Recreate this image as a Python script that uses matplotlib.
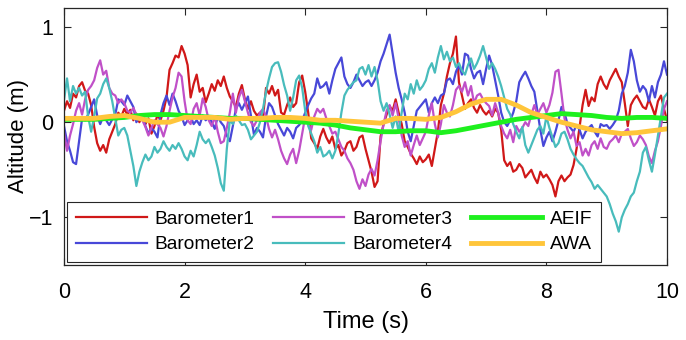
import numpy as np
import matplotlib
matplotlib.use("Agg")
import matplotlib.pyplot as plt

plt.rcParams['font.family'] = ['Liberation Sans', 'DejaVu Sans']

# ---- data ----
baro1 = [0.12, 0.22, 0.15, 0.30, 0.26, 0.38, 0.42, 0.33, 0.30, 0.18,
         -0.05, -0.22, -0.30, -0.24, -0.32, -0.18, -0.10, -0.02, 0.10, 0.06,
         0.14, 0.08, 0.13, 0.02, 0.09, 0.00, 0.08, -0.02, 0.04, -0.12,
         -0.04, 0.08, 0.02, 0.12, 0.26, 0.55, 0.62, 0.70, 0.68, 0.80,
         0.72, 0.60, 0.26, 0.40, 0.50, 0.32, 0.36, 0.21, 0.30, 0.40,
         0.33, 0.44, 0.38, 0.48, 0.36, 0.27, 0.22, 0.16, 0.30, 0.39,
         0.24, 0.14, 0.22, 0.12, 0.07, 0.10, 0.05, 0.36, 0.30, 0.38,
         0.28, 0.34, 0.10, 0.08, 0.18, 0.26, 0.16, 0.20, 0.42, 0.49,
         0.32, 0.10, -0.17, -0.22, -0.28, -0.15, -0.07, -0.16, -0.22, -0.15,
         -0.28, -0.24, -0.35, -0.30, -0.22, -0.20, -0.30, -0.26, -0.16, -0.14,
         -0.28, -0.40, -0.52, -0.68, -0.62, -0.15, -0.02, 0.08, 0.17, 0.12,
         0.24, 0.10, -0.02, -0.20, -0.26, -0.33, -0.38, -0.44, -0.36, -0.42,
         -0.39, -0.34, -0.46, -0.28, -0.10, 0.18, 0.30, 0.48, 0.62, 0.72,
         0.90, 0.42, 0.28, 0.14, 0.20, 0.24, 0.15, 0.10, 0.18, 0.12,
         0.08, 0.12, 0.06, 0.14, 0.10, -0.08, -0.40, -0.46, -0.42, -0.52,
         -0.50, -0.44, -0.48, -0.58, -0.54, -0.50, -0.58, -0.64, -0.52, -0.58,
         -0.55, -0.60, -0.66, -0.78, -0.62, -0.56, -0.62, -0.58, -0.55, -0.45,
         -0.28, -0.05, 0.18, 0.34, 0.17, 0.26, 0.22, 0.40, 0.48, 0.40,
         0.35, 0.44, 0.50, 0.56, 0.48, 0.42, 0.20, -0.04, 0.18, 0.24,
         0.28, 0.22, 0.16, 0.14, 0.24, 0.16, 0.07, 0.22, 0.28, 0.14,
         0.02]

baro2 = [-0.04, -0.20, -0.30, -0.42, -0.44, -0.20, 0.04, 0.02, 0.08, 0.16,
         0.24, 0.07, -0.02, 0.06, 0.02, -0.03, 0.03, 0.08, 0.24, 0.22,
         0.18, 0.28, 0.22, 0.16, 0.00, 0.05, 0.08, -0.04, -0.12, -0.06,
         -0.10, -0.16, 0.08, 0.20, 0.28, 0.18, 0.30, 0.22, 0.12, 0.06,
         -0.03, 0.02, 0.06, -0.02, 0.02, -0.03, 0.07, 0.02, 0.06, 0.00,
         -0.07, 0.06, 0.00, -0.04, -0.14, -0.20, -0.04, 0.14, 0.20, 0.13,
         0.20, 0.27, 0.07, -0.13, -0.06, -0.10, -0.16, 0.06, 0.20, 0.16,
         0.07, -0.02, -0.08, -0.14, -0.06, -0.10, -0.17, -0.06, -0.03, 0.02,
         0.10, 0.18, 0.25, 0.30, 0.46, 0.36, 0.38, 0.42, 0.30, 0.44,
         0.56, 0.62, 0.68, 0.48, 0.40, 0.36, 0.42, 0.50, 0.44, 0.38,
         0.42, 0.44, 0.38, 0.44, 0.52, 0.64, 0.72, 0.82, 0.92, 0.72,
         0.52, 0.36, 0.24, 0.10, -0.10, -0.20, -0.04, 0.12, 0.16, 0.20,
         0.24, 0.10, 0.20, 0.26, 0.20, 0.28, 0.30, 0.44, 0.46, 0.40,
         0.53, 0.60, 0.50, 0.72, 0.70, 0.56, 0.46, 0.52, 0.54, 0.40,
         0.56, 0.70, 0.60, 0.44, 0.28, 0.10, 0.00, -0.04, 0.02, 0.10,
         0.22, 0.42, 0.48, 0.53, 0.46, 0.38, 0.32, 0.12, -0.08, -0.25,
         -0.16, -0.10, -0.20, -0.10, 0.02, 0.16, 0.10, -0.02, -0.06, -0.10,
         -0.03, -0.08, -0.17, -0.10, -0.06, -0.03, -0.10, -0.15, -0.02, -0.04,
         -0.03, -0.07, -0.03, 0.02, 0.12, 0.30, 0.38, 0.52, 0.76, 0.64,
         0.44, 0.32, 0.38, 0.34, 0.22, 0.38, 0.26, 0.42, 0.50, 0.64,
         0.50]

baro3 = [-0.11, -0.30, -0.14, -0.02, 0.12, 0.20, 0.08, 0.24, 0.34, 0.38,
         0.44, 0.57, 0.65, 0.50, 0.54, 0.36, 0.30, 0.28, 0.20, 0.24,
         0.20, 0.12, 0.10, 0.15, 0.08, 0.04, 0.02, -0.05, -0.14, -0.06,
         0.02, -0.02, -0.06, -0.15, -0.04, 0.12, 0.26, 0.36, 0.52, 0.48,
         0.22, 0.02, -0.02, 0.14, 0.20, 0.07, 0.25, 0.16, 0.02, -0.04,
         0.06, -0.10, -0.22, -0.20, -0.06, 0.10, 0.30, 0.10, 0.26, 0.34,
         0.22, 0.10, 0.00, -0.04, 0.02, 0.10, 0.14, 0.06, -0.07, -0.16,
         -0.08, -0.18, -0.30, -0.38, -0.44, -0.34, -0.28, -0.43, -0.30, -0.12,
         0.06, -0.02, -0.08, 0.06, 0.14, 0.10, 0.14, 0.04, -0.04, -0.12,
         -0.10, -0.18, -0.26, -0.30, -0.38, -0.43, -0.50, -0.62, -0.70, -0.60,
         -0.67, -0.55, -0.49, -0.56, -0.40, -0.20, -0.02, 0.12, 0.18, 0.07,
         0.20, 0.04, -0.14, -0.26, -0.20, -0.35, -0.24, -0.14, -0.24, -0.17,
         -0.10, 0.07, 0.20, -0.02, -0.16, -0.02, 0.18, 0.10, 0.06, 0.18,
         0.34, 0.38, 0.32, 0.42, 0.28, 0.38, 0.20, 0.28, 0.30, 0.24,
         0.20, 0.17, 0.07, 0.20, 0.10, -0.04, -0.12, -0.17, -0.08, -0.21,
         -0.04, -0.10, -0.06, 0.00, -0.04, 0.08, 0.18, 0.08, 0.14, 0.20,
         0.10, 0.18, 0.31, 0.53, 0.55, 0.30, 0.04, -0.08, -0.17, -0.10,
         -0.25, -0.21, -0.35, -0.28, -0.35, -0.24, -0.20, -0.28, -0.17, -0.26,
         -0.28, -0.21, -0.18, -0.14, -0.21, -0.12, -0.10, -0.07, -0.17, -0.25,
         -0.21, -0.14, -0.18, -0.24, -0.36, -0.43, -0.30, -0.20, -0.04, 0.14,
         0.22]

baro4 = [0.23, 0.46, 0.22, 0.38, 0.30, 0.36, 0.28, 0.32, 0.06, -0.10,
         0.06, 0.25, 0.30, 0.40, 0.46, 0.36, 0.22, 0.04, -0.14, -0.08,
         -0.06, -0.14, -0.30, -0.46, -0.67, -0.52, -0.42, -0.34, -0.40, -0.36,
         -0.26, -0.32, -0.28, -0.20, -0.26, -0.30, -0.24, -0.28, -0.22, -0.28,
         -0.36, -0.40, -0.30, -0.36, -0.24, -0.10, -0.18, -0.22, -0.18, -0.26,
         -0.35, -0.48, -0.64, -0.72, -0.28, 0.02, -0.02, 0.07, 0.02, -0.03,
         -0.02, -0.08, -0.18, -0.14, -0.10, 0.00, 0.14, 0.32, 0.46, 0.58,
         0.62, 0.63, 0.53, 0.39, 0.28, 0.12, 0.26, 0.44, 0.49, 0.36,
         0.12, -0.04, -0.12, -0.20, -0.32, -0.26, -0.36, -0.34, -0.30, -0.38,
         -0.30, -0.12, 0.10, 0.28, 0.34, 0.38, 0.42, 0.44, 0.56, 0.58,
         0.50, 0.60, 0.48, 0.58, 0.44, 0.22, 0.12, 0.20, 0.08, -0.06,
         0.06, -0.10, 0.10, 0.30, 0.24, 0.40, 0.30, 0.44, 0.34, 0.38,
         0.44, 0.56, 0.62, 0.52, 0.68, 0.80, 0.66, 0.74, 0.64, 0.68,
         0.58, 0.62, 0.54, 0.50, 0.60, 0.67, 0.56, 0.62, 0.70, 0.80,
         0.68, 0.56, 0.62, 0.56, 0.48, 0.38, 0.26, 0.14, 0.08, -0.02,
         -0.10, -0.17, -0.05, -0.24, -0.32, -0.24, -0.16, -0.08, -0.04, -0.12,
         0.06, -0.06, -0.16, -0.26, -0.22, -0.12, -0.10, -0.18, -0.28, -0.34,
         -0.39, -0.43, -0.46, -0.52, -0.58, -0.63, -0.70, -0.66, -0.70, -0.74,
         -0.78, -0.86, -0.96, -1.04, -1.15, -1.00, -0.92, -0.86, -0.78, -0.74,
         -0.62, -0.52, -0.32, -0.26, -0.40, -0.52, -0.34, -0.14, 0.06, 0.26,
         0.30]

aeif = [0.03, 0.03, 0.03, 0.04, 0.05, 0.07, 0.08, 0.08, 0.07, 0.06,
        0.05, 0.04, 0.04, 0.03, 0.02, 0.01, 0.00, -0.01, -0.03, -0.06,
        -0.08, -0.10, -0.10, -0.09, -0.09, -0.11, -0.09, -0.06, -0.03, 0.00,
        0.03, 0.05, 0.07, 0.09, 0.08, 0.07, 0.05, 0.04, 0.05, 0.05,
        0.04]

awa = [0.04, 0.04, 0.04, 0.06, 0.07, 0.04, 0.00, 0.00, 0.05, 0.05,
       0.05, 0.03, 0.04, 0.04, 0.05, 0.05, 0.04, 0.02, 0.02, 0.01,
       0.00, -0.01, 0.04, 0.04, 0.03, 0.05, 0.11, 0.19, 0.24, 0.24,
       0.18, 0.10, 0.05, 0.00, -0.04, -0.08, -0.10, -0.12, -0.11, -0.09,
       -0.07]

names = ['Barometer1', 'Barometer2', 'Barometer3', 'Barometer4', 'AEIF', 'AWA']
colors = ['#d01818', '#4848d8', '#c050c8', '#48bcbc', '#1ef01e', '#ffc53a']

t_raw = np.linspace(0, 10, len(baro1))
t_fused = np.linspace(0, 10, len(aeif))

fig = plt.figure(figsize=(6.86, 3.4), dpi=100)
ax = fig.add_axes([0.0933, 0.2206, 0.879, 0.756])

for vals, name, c in zip([baro1, baro2, baro3, baro4], names[:4], colors[:4]):
    ax.plot(t_raw, vals, color=c, lw=1.6, label=name)
ax.plot(t_fused, aeif, color=colors[4], lw=3.5, label=names[4])
ax.plot(t_fused, awa, color=colors[5], lw=3.5, label=names[5])

ax.set_xlim(0, 10)
ax.set_ylim(-1.5, 1.2)
ax.set_xticks([0, 2, 4, 6, 8, 10])
ax.set_yticks([-1, 0, 1])
ax.set_yticklabels(['\u22121', '0', '1'])
ax.tick_params(direction='in', top=True, right=True, length=5,
               width=0.8, labelsize=15.5, color='#262626')
ax.tick_params(axis='x', pad=12)
ax.tick_params(axis='y', pad=8)
for s in ax.spines.values():
    s.set_color('#262626')
    s.set_linewidth(0.9)
ax.set_xlabel('Time (s)', fontsize=17, labelpad=6)
ax.set_ylabel('Altitude (m)', fontsize=16)
ax.yaxis.set_label_coords(-0.058, 0.5)

leg = ax.legend(loc='lower left', bbox_to_anchor=(0.005, 0.012), borderaxespad=0,
                ncol=3, fontsize=13.8, frameon=True, fancybox=False,
                edgecolor='#262626', framealpha=1, handlelength=3.7,
                columnspacing=1.0, handletextpad=0.4, labelspacing=0.42,
                borderpad=0.45)
leg.get_frame().set_linewidth(0.8)

fig.savefig('out.png', dpi=100)
